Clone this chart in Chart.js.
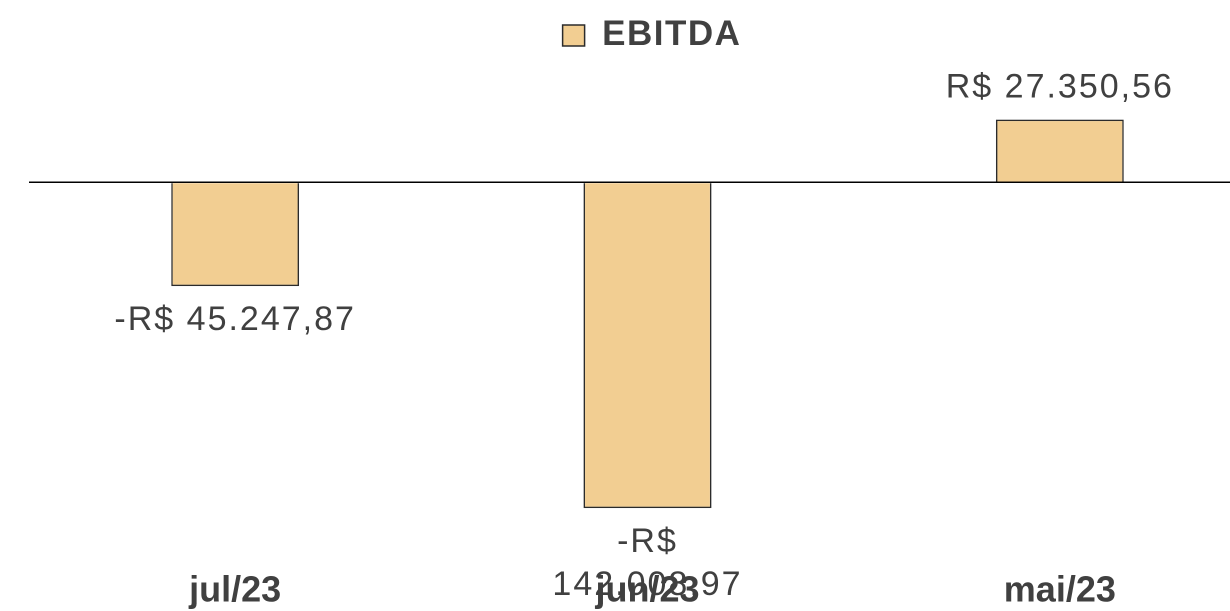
<!DOCTYPE html>
<html>
<head>
<meta charset="utf-8">
<script src="https://cdn.jsdelivr.net/npm/chart.js@4.4.0/dist/chart.umd.min.js"></script>
<style>
    html, body { margin: 0; padding: 0; overflow: hidden; background: #fff; }
    #wrap { width: 1266px; height: 611px; }
</style>
</head>
<body>
<div id="wrap"><canvas id="ebitdaChart" width="1266" height="611"></canvas></div>
<script>
// Dados do gráfico
const categorias = ["jul/23", "jun/23", "mai/23"];
const valoresEbitda = [-45247.87, -142008.97, 27350.56];
const nomeSerie = "EBITDA";

const corBarra = "#F2CE92";
const corTexto = "#404040";
const fonte = "'Liberation Sans', Arial, sans-serif";

// Formata no padrão R$ brasileiro
function formatBRL(v) {
    const neg = v < 0;
    const partes = Math.abs(v).toFixed(2).split(".");
    const inteiro = partes[0].replace(/\B(?=(\d{3})+(?!\d))/g, ".");
    return (neg ? "-" : "") + "R$ " + inteiro + "," + partes[1];
}

// Espaçamento de letras: legenda mais espaçada, eixo sem espaçamento
const espacamentoPlugin = {
    id: "espacamento",
    beforeDraw(chart) { chart.ctx.letterSpacing = "1.5px"; },
    beforeDatasetsDraw(chart) { chart.ctx.letterSpacing = "0px"; },
};

// Rótulos de dados (quebra de linha quando o texto é largo demais)
const rotulosPlugin = {
    id: "rotulos",
    afterDatasetsDraw(chart) {
        const ctx = chart.ctx;
        const meta = chart.getDatasetMeta(0);
        ctx.save();
        ctx.font = "34px " + fonte;
        ctx.letterSpacing = "2px";
        ctx.fillStyle = corTexto;
        ctx.textAlign = "center";
        ctx.textBaseline = "alphabetic";
        meta.data.forEach((bar, i) => {
            const v = valoresEbitda[i];
            const texto = formatBRL(v);
            let linhas = [texto];
            if (ctx.measureText(texto).width > 250) {
                const idx = texto.indexOf(" ");
                linhas = [texto.slice(0, idx), texto.slice(idx + 1)];
            }
            const alturaLinha = 43;
            let y;
            if (v >= 0) {
                y = bar.y - 22 - (linhas.length - 1) * alturaLinha;
            } else {
                y = bar.y + 44;
            }
            linhas.forEach((l) => { ctx.fillText(l, bar.x, y); y += alturaLinha; });
        });
        ctx.restore();
        ctx.letterSpacing = "0px";
    },
};

new Chart(document.getElementById("ebitdaChart"), {
    type: "bar",
    data: {
        labels: categorias,
        datasets: [{
            label: nomeSerie,
            data: valoresEbitda,
            backgroundColor: corBarra,
            borderColor: "#2b2b2b",
            borderWidth: 1.5,
            barPercentage: 0.31,
            categoryPercentage: 1,
        }],
    },
    options: {
        responsive: false,
        animation: false,
        devicePixelRatio: 2,
        layout: { padding: { left: 29, right: 0, top: 18, bottom: -6 } },
        plugins: {
            legend: {
                position: "top",
                labels: {
                    boxWidth: 22,
                    boxHeight: 21,
                    padding: 0,
                    color: corTexto,
                    font: { family: fonte, size: 35, weight: "bold" },
                },
            },
            tooltip: { enabled: false },
        },
        scales: {
            x: {
                grid: { display: false, drawTicks: false },
                border: { display: false },
                ticks: {
                    z: 1,
                    color: corTexto,
                    padding: 4,
                    font: { family: fonte, size: 36, weight: "bold" },
                },
            },
            y: {
                min: -167180,
                max: 52060,
                afterBuildTicks: (scale) => { scale.ticks = [{ value: 0 }]; },
                grid: {
                    drawTicks: false,
                    lineWidth: 1.5,
                    color: (c) => (c.tick && c.tick.value === 0 ? "#000" : "transparent"),
                },
                border: { display: false },
                ticks: { display: false },
            },
        },
    },
    plugins: [espacamentoPlugin, rotulosPlugin],
});
</script>
</body>
</html>
